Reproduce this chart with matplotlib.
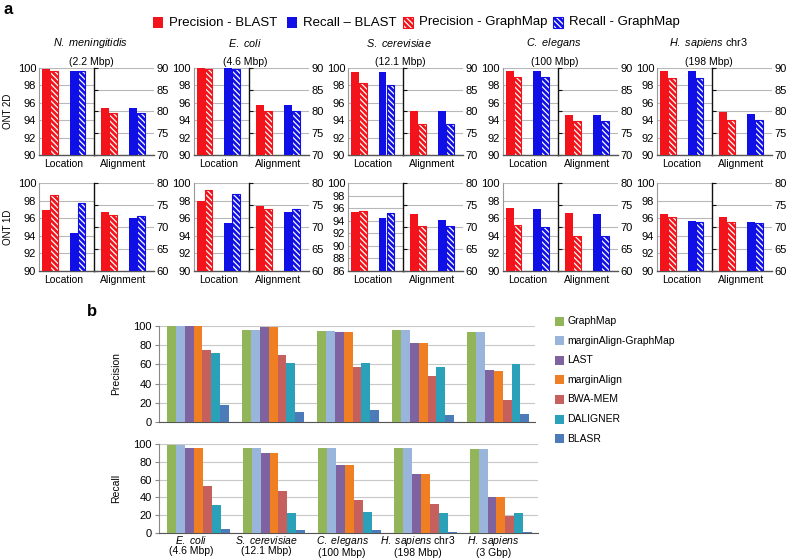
import numpy as np
import matplotlib
matplotlib.use('Agg')
import matplotlib.pyplot as plt
from matplotlib.patches import Rectangle

plt.rcParams['font.family'] = ['Liberation Sans', 'DejaVu Sans']
plt.rcParams['mathtext.fontset'] = 'custom'
plt.rcParams['mathtext.it'] = 'Liberation Sans:italic'
plt.rcParams['mathtext.rm'] = 'Liberation Sans'
plt.rcParams['hatch.linewidth'] = 0.9

# ---- panel a data ----
species_a = [r'$\it{N.\ meningitidis}$', r'$\it{E.\ coli}$', r'$\it{S.\ cerevisiae}$',
             r'$\it{C.\ elegans}$', r'$\it{H.\ sapiens}$ chr3']
sizes_a = ['(2.2 Mbp)', '(4.6 Mbp)', '(12.1 Mbp)', '(100 Mbp)', '(198 Mbp)']

# ONT 2D
loc2d_prec_blast = [99.9, 100.0, 99.5, 99.7, 99.6]
loc2d_prec_gm = [99.7, 99.9, 98.3, 99.0, 98.9]
loc2d_rec_blast = [99.7, 100.0, 99.5, 99.7, 99.6]
loc2d_rec_gm = [99.6, 99.9, 98.1, 99.0, 98.9]
aln2d_prec_blast = [80.8, 81.4, 80.0, 79.2, 79.8]
aln2d_prec_gm = [79.6, 80.0, 77.2, 77.8, 78.0]
aln2d_rec_blast = [80.7, 81.4, 80.0, 79.1, 79.4]
aln2d_rec_gm = [79.6, 80.0, 77.1, 77.8, 78.0]

# ONT 1D
loc1d_prec_blast = [96.9, 97.9, 95.4, 97.2, 96.5]
loc1d_prec_gm = [98.6, 99.2, 95.6, 95.2, 96.1]
loc1d_rec_blast = [94.3, 95.5, 94.4, 97.1, 95.7]
loc1d_rec_gm = [97.7, 98.7, 95.3, 95.0, 95.6]
aln1d_prec_blast = [73.4, 74.7, 73.0, 73.2, 72.2]
aln1d_prec_gm = [72.7, 74.1, 70.3, 67.9, 71.2]
aln1d_rec_blast = [72.0, 73.4, 71.6, 72.9, 71.2]
aln1d_rec_gm = [72.5, 74.0, 70.2, 67.9, 71.0]

loc1d_ymin = [90, 90, 86, 90, 90]

# ---- panel b data ----
genomes_b = [r'$\it{E.\ coli}$' + '\n(4.6 Mbp)', r'$\it{S.\ cerevisiae}$' + '\n(12.1 Mbp)',
             r'$\it{C.\ elegans}$' + '\n(100 Mbp)', r'$\it{H.\ sapiens}$ chr3' + '\n(198 Mbp)',
             r'$\it{H.\ sapiens}$' + '\n(3 Gbp)']
methods = ['GraphMap', 'marginAlign-GraphMap', 'LAST', 'marginAlign', 'BWA-MEM', 'DALIGNER', 'BLASR']
precision = {
    'GraphMap': [100, 95.5, 95, 96, 94],
    'marginAlign-GraphMap': [100, 95.5, 95, 96, 94],
    'LAST': [100, 98.6, 94, 82, 54],
    'marginAlign': [100, 98.6, 94, 82, 53.5],
    'BWA-MEM': [74.5, 70, 57, 47.5, 23],
    'DALIGNER': [71.5, 61, 61, 57.5, 60],
    'BLASR': [17.5, 10.5, 12.8, 7.7, 8],
}
recall = {
    'GraphMap': [98.5, 95.5, 95, 95.5, 94],
    'marginAlign-GraphMap': [98.5, 95.5, 95, 95.5, 94],
    'LAST': [95.5, 89.5, 76, 66.5, 40],
    'marginAlign': [95.5, 89.5, 76, 66.5, 40],
    'BWA-MEM': [53, 47.5, 37.5, 32.5, 19],
    'DALIGNER': [31, 23, 23.5, 22, 23],
    'BLASR': [4.5, 3, 3, 1.5, 1],
}
method_colors = ['#93b55a', '#9ab5dc', '#7f63a0', '#ef7f22', '#c5605d', '#2aa0b9', '#4b7bb8']

RED = '#f2141a'
BLUE = '#1010e6'
GRID = '#b8b8b8'

fig = plt.figure(figsize=(7.88, 5.6), dpi=100)
W, H = 788.0, 560.0


def box(x0, y_top, w, h):
    return [x0 / W, 1 - (y_top + h) / H, w / W, h / H]


def solid(ax, x, v, c):
    ax.bar(x, v, 0.29, color=c, linewidth=0, zorder=3)


def hatched(ax, x, v, c):
    ax.bar(x, v, 0.29, color=c, edgecolor='white', hatch='\\' * 6, linewidth=0, zorder=3)
    ax.bar(x, v, 0.29, fill=False, edgecolor=c, linewidth=0.8, zorder=4)


def style(ax, lo, hi, step, side):
    ax.set_ylim(lo, hi)
    ax.set_yticks(np.arange(lo, hi + 0.1, step))
    ax.grid(axis='y', color=GRID, linewidth=0.8, zorder=0)
    ax.set_axisbelow(True)
    for s in ['top', 'right', 'left']:
        ax.spines[s].set_visible(False)
    ax.spines['bottom'].set_color('#555555')
    ax.spines['bottom'].set_linewidth(1.0)
    ax.tick_params(axis='x', length=0, labelsize=7.5, pad=3)
    if side == 'left':
        ax.spines['left'].set_visible(True)
        ax.spines['left'].set_color('#999999')
        ax.tick_params(axis='y', length=0, labelsize=8, pad=2)
    else:
        ax.spines['left'].set_visible(True)
        ax.spines['left'].set_color('#111111')
        ax.spines['left'].set_linewidth(1.0)
        ax.yaxis.tick_right()
        ax.tick_params(axis='y', which='major', right=False, left=True, direction='in', length=3,
                       labelleft=False, labelright=True, labelsize=8, pad=2, color='#111111')


rows = [
    (68, 87, 'ONT 2D',
     loc2d_prec_blast, loc2d_prec_gm, loc2d_rec_blast, loc2d_rec_gm,
     aln2d_prec_blast, aln2d_prec_gm, aln2d_rec_blast, aln2d_rec_gm, (70, 90)),
    (183, 88, 'ONT 1D',
     loc1d_prec_blast, loc1d_prec_gm, loc1d_rec_blast, loc1d_rec_gm,
     aln1d_prec_blast, aln1d_prec_gm, aln1d_rec_blast, aln1d_rec_gm, (60, 80)),
]

for r, (top, hgt, name, lpb, lpg, lrb, lrg, apb, apg, arb, arg, alim) in enumerate(rows):
    for i in range(5):
        left = 39 + 154.5 * i
        sep = left + 55
        ax_l = fig.add_axes(box(left, top, 55, hgt))
        ax_a = fig.add_axes(box(sep, top, 60, hgt))

        solid(ax_l, -0.145, lpb[i], RED)
        hatched(ax_l, 0.145, lpg[i], RED)
        solid(ax_l, 0.855, lrb[i], BLUE)
        hatched(ax_l, 1.145, lrg[i], BLUE)
        ax_l.set_xlim(-0.4, 1.6)
        ymin = 90 if r == 0 else loc1d_ymin[i]
        style(ax_l, ymin, 100, 2, 'left')
        ax_l.set_xticks([0.5])
        ax_l.set_xticklabels(['Location'])

        solid(ax_a, -0.145, apb[i], RED)
        hatched(ax_a, 0.145, apg[i], RED)
        solid(ax_a, 0.855, arb[i], BLUE)
        hatched(ax_a, 1.145, arg[i], BLUE)
        ax_a.set_xlim(-0.55, 1.6)
        style(ax_a, alim[0], alim[1], 5, 'right')
        ax_a.set_xticks([0.5])
        ax_a.set_xticklabels(['Alignment'])

        if r == 0:
            fig.text((sep - 4) / W, 1 - 43 / H, species_a[i], ha='center', va='center', fontsize=7.8)
            fig.text((sep - 3) / W, 1 - 62 / H, sizes_a[i], ha='center', va='center', fontsize=7.5)
    fig.text(8 / W, 1 - (top + hgt / 2) / H, name, rotation=90, ha='center', va='center', fontsize=7)

# panel a legend
leg_items = [(153, RED, False, 'Precision - BLAST'), (287, BLUE, False, 'Recall \u2013 BLAST'),
             (403, RED, True, 'Precision - GraphMap'), (553, BLUE, True, 'Recall - GraphMap')]
for x0, c, hatch, label in leg_items:
    if hatch:
        fig.add_artist(Rectangle((x0 / W, 1 - 28 / H), 10 / W, 11 / H, transform=fig.transFigure,
                                 facecolor=c, edgecolor='white', hatch='\\' * 6, linewidth=0))
        fig.add_artist(Rectangle((x0 / W, 1 - 28 / H), 10 / W, 11 / H, transform=fig.transFigure,
                                 fill=False, edgecolor=c, linewidth=0.8))
    else:
        fig.add_artist(Rectangle((x0 / W, 1 - 28 / H), 10 / W, 11 / H, transform=fig.transFigure,
                                 facecolor=c, linewidth=0))
    fig.text((x0 + 16) / W, 1 - 22.5 / H, label, ha='left', va='center', fontsize=9.5)

fig.text(3 / W, 1 - 10 / H, 'a', fontsize=12, fontweight='bold', ha='left', va='center')
fig.text(87 / W, 1 - 312 / H, 'b', fontsize=12, fontweight='bold', ha='left', va='center')

# ---- panel b ----
ax_p = fig.add_axes(box(159, 326, 376, 96))
ax_r = fig.add_axes(box(159, 444, 379, 89))
bw = 0.118
xs = np.arange(len(genomes_b))
for ax, data, lab in [(ax_p, precision, 'Precision'), (ax_r, recall, 'Recall')]:
    for j, m in enumerate(methods):
        ax.bar(xs + (j - 3) * bw, data[m], bw, color=method_colors[j], linewidth=0, zorder=3)
    ax.set_ylim(0, 100)
    ax.set_yticks(np.arange(0, 101, 20))
    ax.set_xlim(-0.52, 4.49)
    ax.grid(axis='y', color='#c8c8c8', linewidth=0.8, zorder=0)
    ax.set_axisbelow(True)
    for s in ['top', 'right']:
        ax.spines[s].set_visible(False)
    ax.spines['left'].set_color('#888888')
    ax.spines['bottom'].set_color('#555555')
    ax.tick_params(axis='y', labelsize=8, length=3, color='#888888', pad=2)
    ax.set_ylabel(lab, fontsize=7.5, labelpad=9)
    ax.set_xticks(xs - 0.1)
    if ax is ax_r:
        ax.set_xticklabels(genomes_b, fontsize=7.5, linespacing=1.0)
        ax.tick_params(axis='x', length=0, pad=1)
    else:
        ax.set_xticklabels([])
        ax.tick_params(axis='x', length=0)

for k, m in enumerate(methods):
    y = 321 + 19.6 * k
    fig.add_artist(Rectangle((555 / W, 1 - (y + 4.5) / H), 9 / W, 9 / H, transform=fig.transFigure,
                             facecolor=method_colors[k], linewidth=0))
    fig.text(567 / W, 1 - y / H, m, ha='left', va='center', fontsize=7.5)

fig.savefig('out.png', dpi=100)
